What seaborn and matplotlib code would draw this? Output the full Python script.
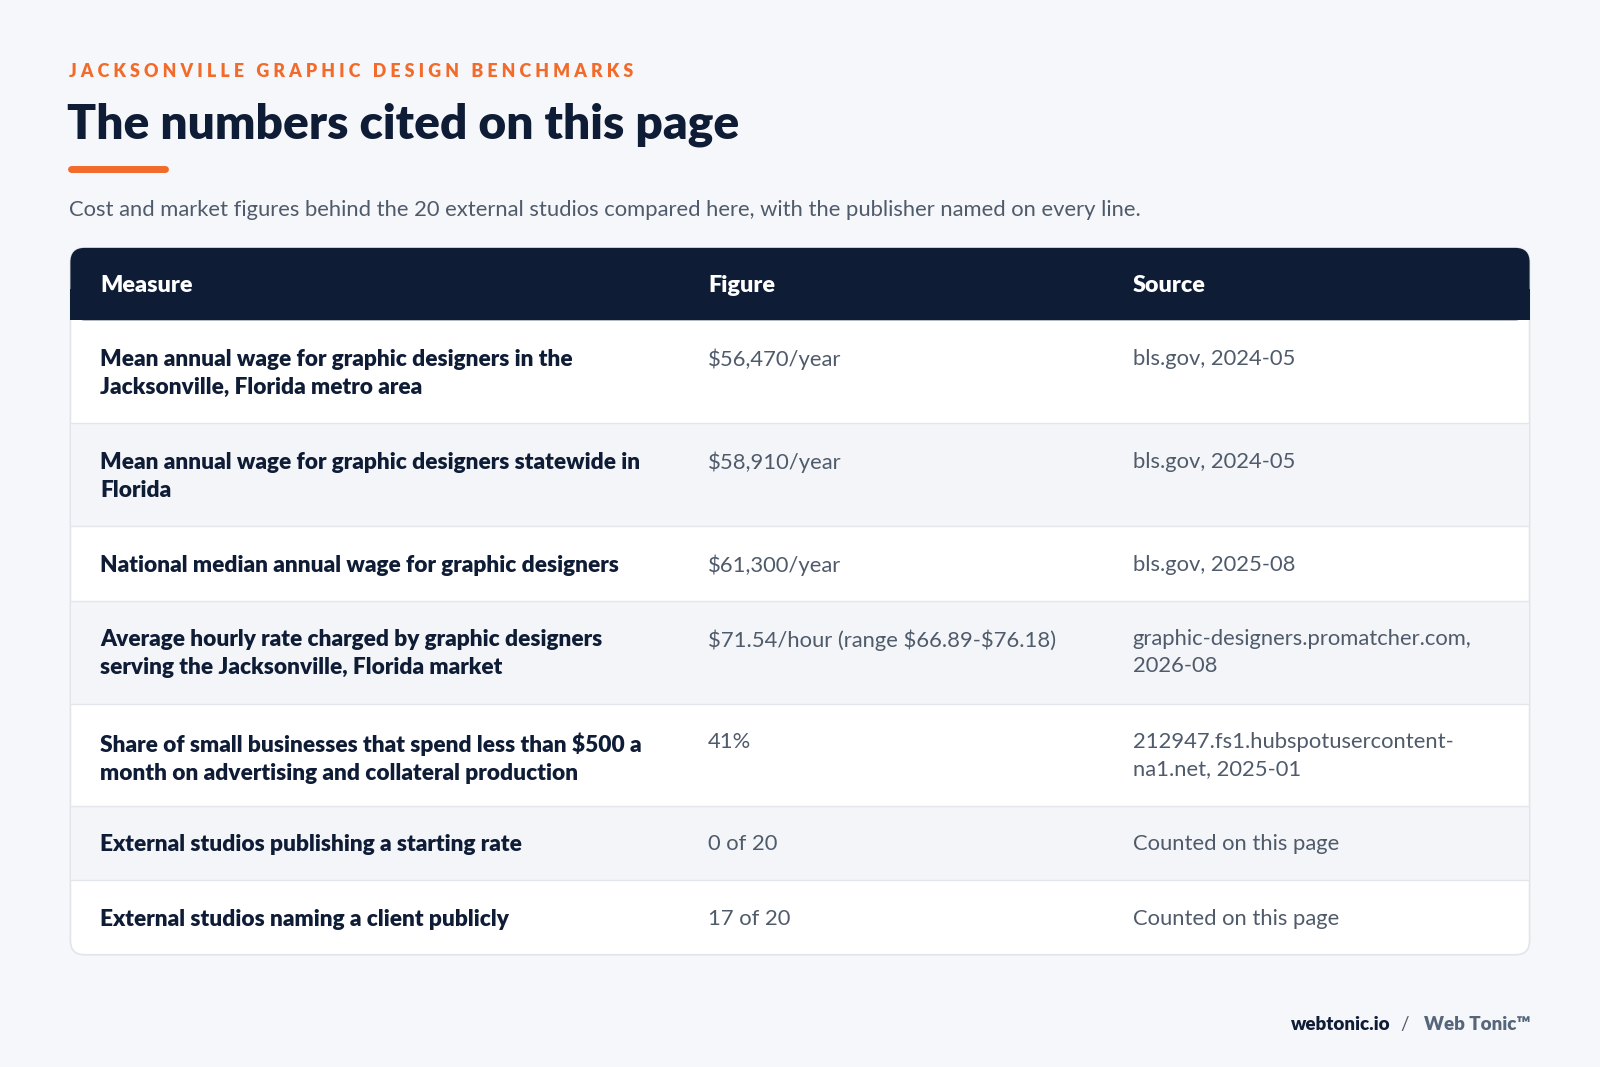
import matplotlib
matplotlib.use("Agg")
import matplotlib.pyplot as plt
from matplotlib.patches import FancyBboxPatch, Rectangle
import seaborn as sns

sns.set_theme(style="white")
plt.rcParams['font.family'] = ['Lato', 'DejaVu Sans']

# table data
measures = [
    "Mean annual wage for graphic designers in the\nJacksonville, Florida metro area",
    "Mean annual wage for graphic designers statewide in\nFlorida",
    "National median annual wage for graphic designers",
    "Average hourly rate charged by graphic designers\nserving the Jacksonville, Florida market",
    "Share of small businesses that spend less than $500 a\nmonth on advertising and collateral production",
    "External studios publishing a starting rate",
    "External studios naming a client publicly",
]
figures = ["$56,470/year", "$58,910/year", "$61,300/year",
           "$71.54/hour (range $66.89-$76.18)", "41%", "0 of 20", "17 of 20"]
sources = ["bls.gov, 2024-05", "bls.gov, 2024-05", "bls.gov, 2025-08",
           "graphic-designers.promatcher.com,\n2026-08",
           "212947.fs1.hubspotusercontent-\nna1.net, 2025-01",
           "Counted on this page", "Counted on this page"]
headers = ["Measure", "Figure", "Source"]

NAVY = "#0f1c36"
ORANGE = "#f26b2a"
GREY = "#4f5b6b"
BG = "#f6f7fa"

fig = plt.figure(figsize=(16, 10.67), dpi=100)
fig.patch.set_facecolor(BG)
ax = fig.add_axes([0, 0, 1, 1])
ax.set_xlim(0, 1568)
ax.set_ylim(1046, 0)
ax.axis("off")
ax.set_facecolor(BG)

ax.text(68, 70, "J A C K S O N V I L L E   G R A P H I C   D E S I G N   B E N C H M A R K S",
        fontsize=12.8, fontweight="heavy", color=ORANGE, va="center")
ax.text(66, 122, "The numbers cited on this page", fontsize=34.5, fontweight="heavy",
        color=NAVY, va="center")
ax.plot([70, 162], [166, 166], color=ORANGE, lw=5, solid_capstyle="round")
ax.text(68, 206, "Cost and market figures behind the 20 external studios compared here, "
        "with the publisher named on every line.", fontsize=15.8, color=GREY, va="center")

# card
left, right, top = 69, 1499, 243
row_edges = [314, 415, 516, 589, 690, 790, 863, 936]
card = FancyBboxPatch((left, top), right - left, row_edges[-1] - top,
                      boxstyle="round,pad=0,rounding_size=14", fc="white",
                      ec="#e1e5ea", lw=1.2, zorder=1)
ax.add_patch(card)
hdr = FancyBboxPatch((left, top), right - left, 71, boxstyle="round,pad=0,rounding_size=14",
                     fc=NAVY, ec="none", zorder=2)
ax.add_patch(hdr)
ax.add_patch(Rectangle((left, top + 40), right - left, 31, fc=NAVY, ec="none", zorder=2))

cols = [98, 694, 1110]
for x, h in zip(cols, headers):
    ax.text(x, 280, h, fontsize=16.8, fontweight="heavy", color="white", va="center", zorder=3)

for i in range(len(measures)):
    y0, y1 = row_edges[i], row_edges[i + 1]
    if i % 2 == 1:
        ax.add_patch(Rectangle((left + 1, y0), right - left - 2, y1 - y0, fc="#f3f5f8",
                               ec="none", zorder=2))
    if i < len(measures) - 1:
        ax.plot([left + 1, right - 1], [y1, y1], color="#e3e7ec", lw=1, zorder=3)
    ty = y0 + 28
    kw = dict(va="top", linespacing=1.4, zorder=4)
    ax.text(cols[0], ty, measures[i], fontweight="heavy", color=NAVY, fontsize=16.3, **kw)
    ax.text(cols[1], ty, figures[i], color=GREY, fontsize=15.8, **kw)
    ax.text(cols[2], ty, sources[i], color=GREY, fontsize=15.8, **kw)

ax.text(1363, 1004, "webtonic.io", fontsize=13.5, fontweight="heavy", color=NAVY,
        va="center", ha="right")
ax.text(1377, 1004, "/", fontsize=13.5, color=GREY, va="center", ha="center")
ax.text(1500, 1004, "Web Tonic™", fontsize=13.5, fontweight="heavy", color="#55657a",
        va="center", ha="right")

fig.savefig("out.png", dpi=100, facecolor=BG)
